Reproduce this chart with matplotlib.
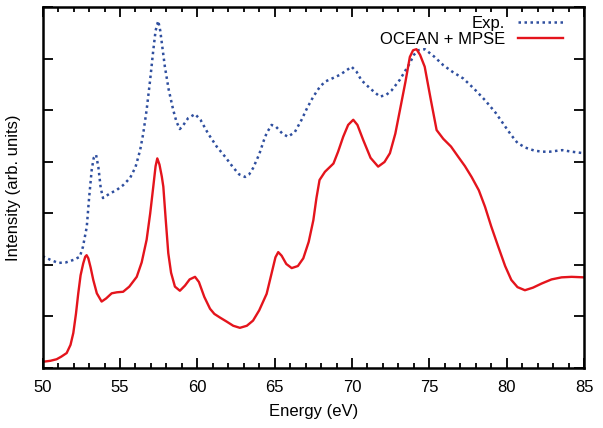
import matplotlib
matplotlib.use("Agg")
import matplotlib.pyplot as plt
from matplotlib.ticker import MultipleLocator

plt.rcParams['font.family'] = ['Liberation Sans', 'DejaVu Sans']

exp_energy = [50.0, 50.5, 51.0, 51.5, 52.0, 52.4, 52.6, 52.85, 53.0, 53.17,
              53.3, 53.45, 53.6, 53.75, 53.9, 54.3, 54.8, 55.2, 55.65, 56.0,
              56.3, 56.5, 56.72, 56.95, 57.15, 57.3, 57.47, 57.6, 57.75, 57.9,
              58.15, 58.44, 58.65, 58.87, 59.1, 59.4, 59.85, 60.2, 60.7, 61.25,
              61.8, 62.3, 62.7, 63.08, 63.35, 63.6, 64.0, 64.3, 64.48, 64.8,
              65.1, 65.5, 65.86, 66.3, 66.74, 67.1, 67.5, 67.9, 68.25, 68.7,
              69.2, 69.6, 69.97, 70.3, 70.6, 71.2, 71.8, 72.2, 72.56, 73.1,
              73.74, 74.0, 74.28, 74.71, 75.3, 75.9, 76.5, 77.2, 77.9, 78.6,
              79.3, 79.9, 80.3, 80.7, 81.2, 81.8, 82.3, 82.8, 83.3, 83.6,
              84.2, 85.0]
exp_int = [2.17, 2.10, 2.04, 2.05, 2.10, 2.16, 2.35, 2.74, 3.30, 3.85,
           4.08, 4.14, 3.90, 3.50, 3.30, 3.38, 3.46, 3.55, 3.69, 3.90,
           4.23, 4.55, 5.01, 5.60, 6.17, 6.55, 6.74, 6.55, 6.20, 5.85,
           5.40, 5.01, 4.78, 4.64, 4.72, 4.85, 4.93, 4.82, 4.55, 4.30,
           4.10, 3.90, 3.76, 3.71, 3.76, 3.88, 4.15, 4.42, 4.56, 4.72,
           4.68, 4.55, 4.49, 4.58, 4.82, 5.05, 5.27, 5.45, 5.56, 5.62,
           5.69, 5.77, 5.85, 5.75, 5.59, 5.42, 5.27, 5.30, 5.39, 5.60,
           5.92, 6.08, 6.17, 6.19, 6.05, 5.88, 5.75, 5.62, 5.42, 5.20,
           4.95, 4.69, 4.52, 4.37, 4.28, 4.22, 4.20, 4.20, 4.22, 4.23,
           4.20, 4.17]

# OCEAN + MPSE calculation
calc_energy = [50.0, 50.5, 50.9, 51.2, 51.55, 51.8, 51.98, 52.15, 52.3, 52.45,
               52.62, 52.75, 52.84, 52.95, 53.1, 53.27, 53.5, 53.81, 54.1, 54.46,
               54.8, 55.2, 55.6, 56.08, 56.4, 56.72, 56.95, 57.15, 57.3, 57.41,
               57.55, 57.7, 57.8, 57.95, 58.12, 58.3, 58.55, 58.87, 59.2, 59.5,
               59.85, 60.1, 60.45, 60.82, 61.1, 61.46, 61.9, 62.32, 62.75, 63.2,
               63.6, 64.0, 64.48, 64.85, 65.05, 65.23, 65.45, 65.75, 66.1, 66.5,
               66.85, 67.2, 67.5, 67.7, 67.9, 68.25, 68.8, 69.1, 69.43, 69.75,
               70.08, 70.35, 70.72, 71.2, 71.69, 72.1, 72.45, 72.8, 73.1, 73.45,
               73.74, 73.95, 74.17, 74.4, 74.7, 75.1, 75.47, 75.9, 76.4, 76.87,
               77.3, 77.73, 78.2, 78.6, 79.0, 79.45, 79.9, 80.3, 80.7, 81.18,
               81.7, 82.26, 82.9, 83.55, 84.2, 85.0]
calc_int = [0.12, 0.14, 0.17, 0.22, 0.29, 0.45, 0.68, 1.05, 1.45, 1.80,
            2.03, 2.16, 2.19, 2.13, 1.95, 1.71, 1.45, 1.29, 1.35, 1.45,
            1.47, 1.48, 1.58, 1.77, 2.05, 2.49, 3.00, 3.52, 3.92, 4.07,
            3.95, 3.72, 3.52, 2.90, 2.23, 1.85, 1.58, 1.50, 1.60, 1.72,
            1.77, 1.67, 1.38, 1.15, 1.05, 0.98, 0.90, 0.82, 0.78, 0.82,
            0.92, 1.12, 1.44, 1.90, 2.15, 2.25, 2.18, 2.02, 1.94, 1.98,
            2.13, 2.45, 2.87, 3.30, 3.65, 3.81, 3.97, 4.20, 4.49, 4.72,
            4.82, 4.72, 4.43, 4.08, 3.91, 4.00, 4.17, 4.55, 5.01, 5.55,
            6.04, 6.17, 6.19, 6.08, 5.85, 5.20, 4.62, 4.45, 4.30, 4.10,
            3.92, 3.71, 3.45, 3.13, 2.75, 2.36, 1.98, 1.71, 1.57, 1.51,
            1.56, 1.64, 1.72, 1.76, 1.77, 1.76]

fig = plt.figure(figsize=(6.03, 4.28), dpi=100)
ax = fig.add_axes([0.0708, 0.1402, 0.8977, 0.8423])

ax.plot(exp_energy, exp_int, color='#2f4f9f', lw=1.8, linestyle=(0, (1, 1.4)),
        label='Exp.')
ax.plot(calc_energy, calc_int, color='#e4141c', lw=1.7, label='OCEAN + MPSE')

ax.set_xlim(50, 85)
ax.set_ylim(0, 7)
ax.xaxis.set_major_locator(MultipleLocator(5))
ax.xaxis.set_minor_locator(MultipleLocator(1))
ax.yaxis.set_major_locator(MultipleLocator(1))
ax.set_yticklabels([])
ax.tick_params(which='both', direction='in', top=True, right=True, width=1.3,
               labelsize=12)
ax.tick_params(axis='x', which='major', pad=9)
ax.tick_params(which='major', length=7)
ax.tick_params(which='minor', length=3.5)
ax.tick_params(axis='y', which='minor', left=False, right=False)
for s in ax.spines.values():
    s.set_linewidth(1.8)

ax.set_xlabel('Energy (eV)', fontsize=12, labelpad=6)
ax.set_ylabel('Intensity (arb. units)', fontsize=12, labelpad=12)

ax.legend(loc='upper right', frameon=False, markerfirst=False, fontsize=12,
          handlelength=2.7, handletextpad=0.8, labelspacing=0.05,
          bbox_to_anchor=(0.98, 1.005), borderaxespad=0.2)

fig.savefig('out.png', dpi=100)
